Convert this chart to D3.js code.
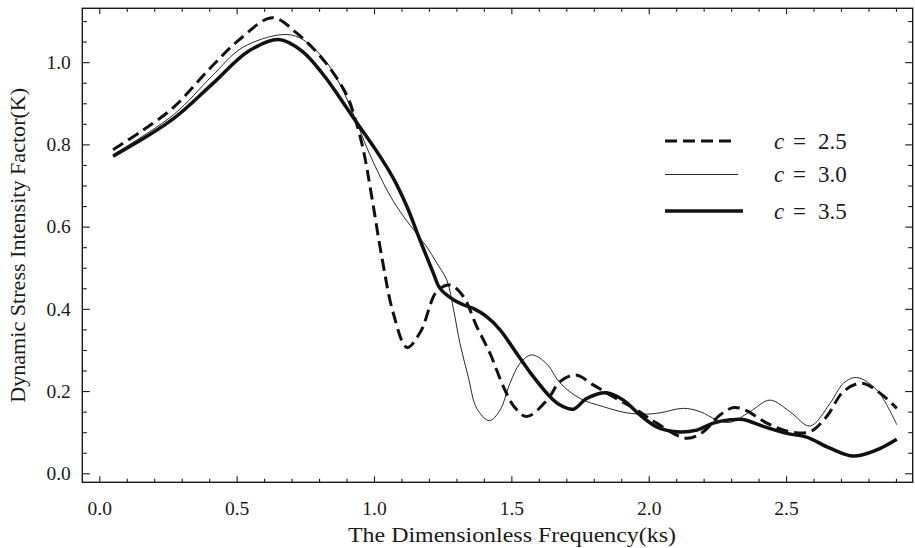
<!DOCTYPE html>
<html>
<head>
<meta charset="utf-8">
<script src="https://cdn.jsdelivr.net/npm/d3@7"></script>
<style>
  html, body { margin: 0; padding: 0; background: #fff; }
  svg { display: block; }
  svg text { font-family: "Liberation Serif", "Times New Roman", Tinos, serif; fill: #1a1a1a; }
</style>
</head>
<body>
<svg id="chart" width="915" height="548"></svg>
<script>
// ---- data ----
const seriesNames = ["c = 2.5", "c = 3.0", "c = 3.5"];
const cValues = ["2.5", "3.0", "3.5"];

const x25 = [0.05,0.16,0.27,0.41,0.51,0.63,0.72,0.82,0.90,0.93,0.96,0.99,1.03,1.07,1.12,1.17,1.228,1.277,1.325,1.374,1.422,1.471,1.51,1.556,1.63,1.677,1.735,1.798,1.871,1.956,2.029,2.138,2.199,2.26,2.31,2.357,2.43,2.514,2.587,2.648,2.709,2.775,2.842,2.903];
const y25 = [0.787,0.835,0.89,0.99,1.055,1.108,1.07,1.002,0.921,0.865,0.79,0.68,0.52,0.39,0.306,0.345,0.442,0.458,0.43,0.357,0.292,0.211,0.162,0.138,0.178,0.223,0.239,0.215,0.186,0.154,0.122,0.085,0.101,0.142,0.16,0.152,0.122,0.101,0.101,0.138,0.199,0.219,0.195,0.158];

const x30 = [0.05,0.27,0.41,0.52,0.665,0.73,0.815,0.876,0.93,0.985,1.07,1.164,1.195,1.225,1.265,1.289,1.313,1.343,1.374,1.42,1.459,1.495,1.532,1.574,1.629,1.677,1.75,1.835,1.92,1.993,2.041,2.126,2.187,2.248,2.296,2.369,2.441,2.514,2.587,2.66,2.709,2.757,2.83,2.903];
const y30 = [0.775,0.872,0.966,1.035,1.067,1.059,1.01,0.946,0.865,0.775,0.662,0.575,0.548,0.515,0.47,0.40,0.316,0.235,0.158,0.128,0.154,0.219,0.268,0.288,0.266,0.22,0.182,0.162,0.147,0.144,0.147,0.158,0.15,0.13,0.124,0.15,0.178,0.15,0.115,0.17,0.219,0.233,0.203,0.118];

const x35 = [0.05,0.265,0.41,0.544,0.653,0.738,0.815,0.876,0.93,1.01,1.07,1.119,1.167,1.216,1.24,1.289,1.325,1.361,1.41,1.459,1.519,1.58,1.641,1.677,1.726,1.774,1.847,1.908,1.968,2.029,2.102,2.175,2.235,2.296,2.344,2.417,2.502,2.575,2.66,2.745,2.83,2.903];
const y35 = [0.771,0.86,0.946,1.027,1.055,1.027,0.97,0.913,0.86,0.783,0.718,0.65,0.568,0.487,0.45,0.422,0.41,0.401,0.381,0.349,0.292,0.235,0.186,0.166,0.156,0.182,0.196,0.178,0.142,0.113,0.101,0.105,0.122,0.13,0.131,0.114,0.097,0.088,0.061,0.042,0.057,0.083];

const xTickLabels = ["0.0","0.5","1.0","1.5","2.0","2.5"];
const yTickLabels = ["0.0","0.2","0.4","0.6","0.8","1.0"];
const xTitle = "The Dimensionless Frequency(ks)";
const yTitle = "Dynamic Stress Intensity Factor(K)";

// ---- layout ----
const FONT = "font-family: 'Liberation Serif', 'Times New Roman', Tinos, serif;";
const svg = d3.select("#chart");
const L = 82.3, R = 912.7, T = 8.3, B = 482.3;
const x = d3.scaleLinear().domain([-0.0619, 2.961]).range([L, R]);
const y = d3.scaleLinear().domain([-0.0219, 1.131]).range([B, T]);

const series = [
  {name: seriesNames[0], c: cValues[0], xs: x25, ys: y25, width: 3, dash: "12,6"},
  {name: seriesNames[1], c: cValues[1], xs: x30, ys: y30, width: 0.9, dash: null},
  {name: seriesNames[2], c: cValues[2], xs: x35, ys: y35, width: 3.5, dash: null}
];

// ---- curves ----
const line = d3.line()
  .x(d => x(d[0])).y(d => y(d[1]))
  .curve(d3.curveCatmullRom.alpha(0.5));

const plot = svg.append("g");
series.forEach(s => {
  plot.append("path")
    .datum(s.xs.map((v, i) => [v, s.ys[i]]))
    .attr("fill", "none")
    .attr("stroke", "#111")
    .attr("stroke-width", s.width)
    .attr("stroke-dasharray", s.dash)
    .attr("stroke-linejoin", "round")
    .attr("d", line);
});

// ---- axes ----
const xMajor = xTickLabels.map(Number);
const xMinor = d3.range(0, 30).map(i => i / 10).filter(v => !xMajor.some(m => Math.abs(m - v) < 1e-9));
const yMajor = yTickLabels.map(Number);
const yMinor = d3.range(0, 23).map(i => i * 0.05).filter(v => v <= 1.11 && !yMajor.some(m => Math.abs(m - v) < 1e-9));

function styleAxis(g) {
  g.select(".domain").remove();
  g.attr("font-family", null);
  g.selectAll("line").attr("stroke", "#1a1a1a").attr("stroke-width", 1.1);
}

// bottom
svg.append("g").attr("transform", `translate(0,${B})`)
  .call(d3.axisTop(x).tickValues(xMajor).tickSize(6).tickFormat(""))
  .call(styleAxis);
svg.append("g").attr("transform", `translate(0,${B})`)
  .call(d3.axisTop(x).tickValues(xMinor).tickSize(3.5).tickFormat(""))
  .call(styleAxis);
const xl = svg.append("g").attr("transform", `translate(0,${B})`)
  .call(d3.axisBottom(x).tickValues(xMajor).tickSize(0).tickPadding(19).tickFormat((d, i) => xTickLabels[i]))
  .call(styleAxis);
xl.selectAll("text").attr("style", FONT + " font-size: 19.5px;").attr("fill", "#1a1a1a");
// top
svg.append("g").attr("transform", `translate(0,${T})`)
  .call(d3.axisBottom(x).tickValues(xMajor).tickSize(6).tickFormat(""))
  .call(styleAxis);
svg.append("g").attr("transform", `translate(0,${T})`)
  .call(d3.axisBottom(x).tickValues(xMinor).tickSize(3.5).tickFormat(""))
  .call(styleAxis);
// left
svg.append("g").attr("transform", `translate(${L},0)`)
  .call(d3.axisRight(y).tickValues(yMajor).tickSize(7.5).tickFormat(""))
  .call(styleAxis);
svg.append("g").attr("transform", `translate(${L},0)`)
  .call(d3.axisRight(y).tickValues(yMinor).tickSize(4.5).tickFormat(""))
  .call(styleAxis);
const yl = svg.append("g").attr("transform", `translate(${L},0)`)
  .call(d3.axisLeft(y).tickValues(yMajor).tickSize(0).tickPadding(11.5).tickFormat((d, i) => yTickLabels[i]))
  .call(styleAxis);
yl.selectAll("text").attr("style", FONT + " font-size: 19.5px;").attr("fill", "#1a1a1a");
// right
svg.append("g").attr("transform", `translate(${R},0)`)
  .call(d3.axisLeft(y).tickValues(yMajor).tickSize(7.5).tickFormat(""))
  .call(styleAxis);
svg.append("g").attr("transform", `translate(${R},0)`)
  .call(d3.axisLeft(y).tickValues(yMinor).tickSize(4.5).tickFormat(""))
  .call(styleAxis);

// frame
svg.append("rect").attr("x", L).attr("y", T).attr("width", R - L).attr("height", B - T)
  .attr("fill", "none").attr("stroke", "#1a1a1a").attr("stroke-width", 1.4);

// titles
svg.append("text").attr("x", 512).attr("y", 541.5).attr("text-anchor", "middle")
  .attr("style", FONT + " font-size: 22px;")
  .attr("textLength", 328).attr("lengthAdjust", "spacingAndGlyphs").text(xTitle);
svg.append("text").attr("transform", `translate(25,${(T + B) / 2}) rotate(-90)`)
  .attr("text-anchor", "middle").attr("style", FONT + " font-size: 21.5px;")
  .attr("textLength", 315).attr("lengthAdjust", "spacingAndGlyphs").text(yTitle);

// legend
const legendY = [141, 174.5, 211];
const legendLen = [66, 73, 78];
const lg = svg.append("g");
series.forEach((s, i) => {
  lg.append("line")
    .attr("x1", 665).attr("x2", 665 + legendLen[i])
    .attr("y1", legendY[i]).attr("y2", legendY[i])
    .attr("stroke", "#111").attr("stroke-width", s.width)
    .attr("stroke-dasharray", s.dash);
  const t = lg.append("text").attr("y", legendY[i] + 7.5).attr("style", FONT + " font-size: 23px;");
  t.append("tspan").attr("x", 774).attr("font-style", "italic").text("c");
  t.append("tspan").attr("x", 793).text("=");
  t.append("tspan").attr("x", 818).text(s.c);
});
</script>
</body>
</html>
